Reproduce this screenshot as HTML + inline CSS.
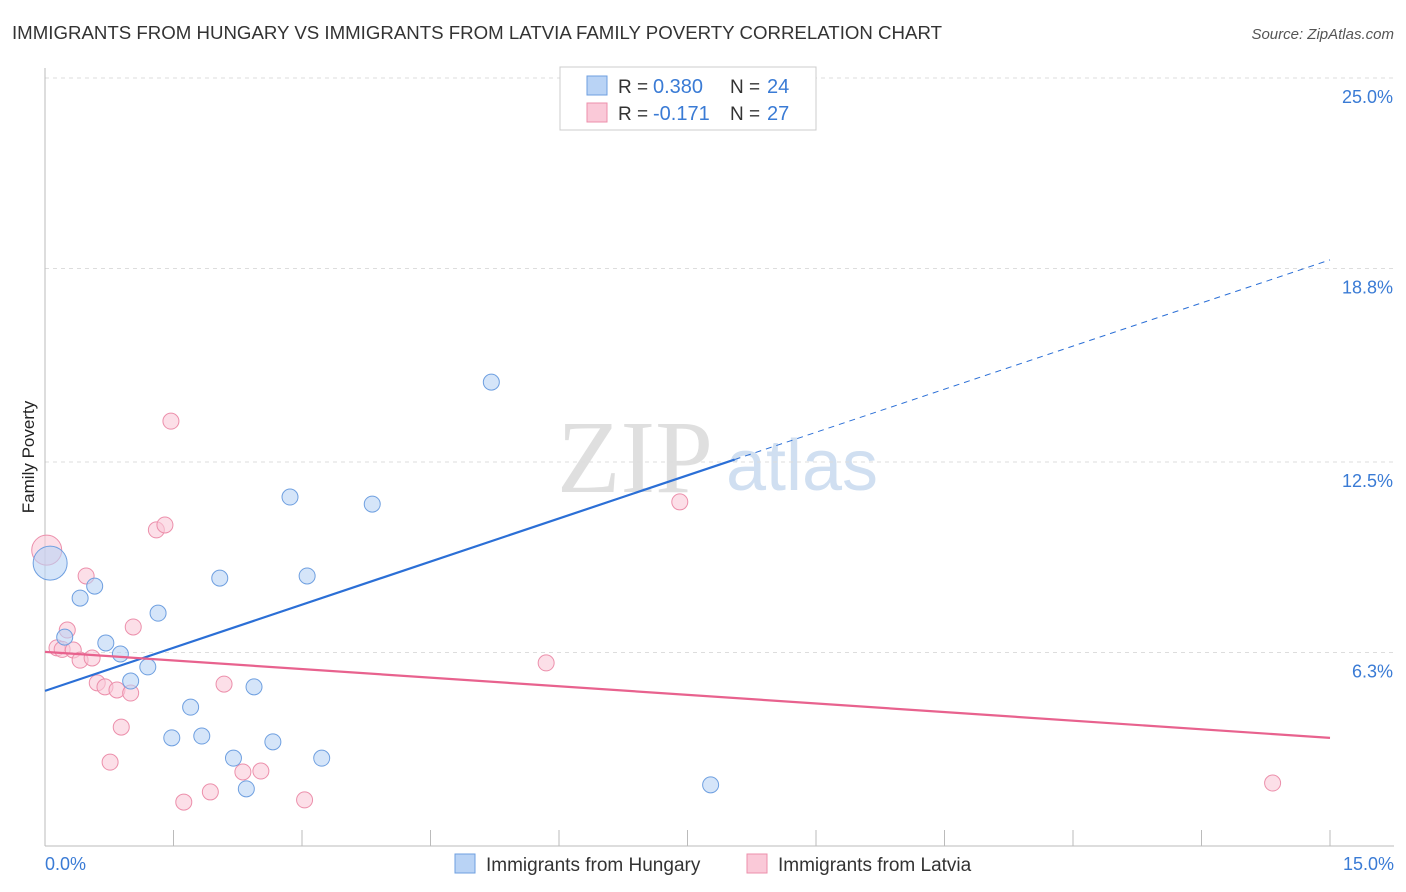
<!DOCTYPE html>
<html><head><meta charset="utf-8">
<style>
body{margin:0;background:#fff;font-family:"Liberation Sans",sans-serif;}
svg{display:block}
</style></head>
<body>
<svg id="chart" width="1406" height="892" xmlns="http://www.w3.org/2000/svg" font-family="Liberation Sans, sans-serif">
<text x="12" y="39" font-size="18" fill="#333" textLength="930" lengthAdjust="spacingAndGlyphs">IMMIGRANTS FROM HUNGARY VS IMMIGRANTS FROM LATVIA FAMILY POVERTY CORRELATION CHART</text>
<text x="1394" y="39" font-size="15" fill="#555" text-anchor="end" font-style="italic">Source: ZipAtlas.com</text>
<text transform="translate(34,457) rotate(-90)" font-size="17" fill="#222" text-anchor="middle">Family Poverty</text>
<g>
<text x="635" y="492" font-size="104" fill="#d8d8d8" font-family="Liberation Serif, serif" text-anchor="middle" opacity="0.8">ZIP</text>
<text x="802" y="490" font-size="72" fill="#c5d8ee" text-anchor="middle" opacity="0.8">atlas</text>
</g>
<g id="grid"></g>
<g id="axes"></g>
<g id="marks"></g>
<g>
<rect x="560" y="67" width="256" height="63" fill="#fff" stroke="#ccc"/>
<rect x="587" y="76" width="20" height="19" fill="#b9d3f5" stroke="#6e9fe0"/>
<text x="618" y="93" font-size="19" fill="#333">R =</text>
<text x="653" y="93" font-size="20" fill="#3a7bd5">0.380</text>
<text x="730" y="93" font-size="19" fill="#333">N =</text>
<text x="767" y="93" font-size="20" fill="#3a7bd5">24</text>
<rect x="587" y="103" width="20" height="19" fill="#fac9d8" stroke="#ec8fab"/>
<text x="618" y="120" font-size="19" fill="#333">R =</text>
<text x="653" y="120" font-size="20" fill="#3a7bd5">-0.171</text>
<text x="730" y="120" font-size="19" fill="#333">N =</text>
<text x="767" y="120" font-size="20" fill="#3a7bd5">27</text>
</g>
<g>
<rect x="455" y="854" width="20" height="19" fill="#b9d3f5" stroke="#6e9fe0"/>
<text x="486" y="871" font-size="19" fill="#333">Immigrants from Hungary</text>
<rect x="747" y="854" width="20" height="19" fill="#fac9d8" stroke="#ec8fab"/>
<text x="778" y="871" font-size="19" fill="#333">Immigrants from Latvia</text>
</g>
</svg>
<script>
const yTicks=[6.3,12.5,18.8,25.0];
const yTickLabels=["6.3%","12.5%","18.8%","25.0%"];
const xTickLabels=["0.0%","15.0%"];
const hungaryX=[0.06,0.23,0.41,0.58,0.71,0.88,1.0,1.2,1.32,1.48,1.70,1.83,2.04,2.2,2.35,2.44,2.66,2.86,3.06,3.23,3.82,5.21,7.16,7.77];
const hungaryY=[9.21,6.8,8.07,8.46,6.61,6.25,5.37,5.83,7.58,3.52,4.52,3.58,8.72,2.86,1.86,5.18,3.39,11.36,8.79,2.86,11.13,15.1,24.45,1.99];
const latviaX=[0.02,0.14,0.2,0.26,0.33,0.41,0.48,0.55,0.61,0.70,0.76,0.84,0.89,1.0,1.03,1.30,1.4,1.47,1.62,1.93,2.09,2.31,2.52,3.03,5.85,7.41,14.33];
const latviaY=[9.63,6.45,6.4,7.03,6.38,6.05,8.79,6.12,5.31,5.18,2.73,5.08,3.87,4.98,7.13,10.29,10.45,13.83,1.43,1.76,5.27,2.41,2.44,1.5,5.96,11.2,2.05];
const hungaryTrend=[5.05,19.08];
const latviaTrend=[6.32,3.52];
const hungarySolidEnd=8.05;

const NS="http://www.w3.org/2000/svg";
const X=v=>45+v*(1285/15);
const Y=v=>846-v*30.72;
function mk(tag,attrs,parent){const e=document.createElementNS(NS,tag);for(const k in attrs)e.setAttribute(k,attrs[k]);document.getElementById(parent).appendChild(e);return e;}
yTicks.forEach((t,i)=>{
 const l=mk('line',{x1:45,x2:1394,y1:Y(t),y2:Y(t),stroke:'#ddd','stroke-dasharray':'4,4'},'grid');
 
 
 const tx=mk('text',{x:1393,y:Y(t)+25,'font-size':18,fill:'#3a7bd5','text-anchor':'end'},'grid');
 tx.textContent=yTickLabels[i];
 
 
});
const ax=mk('line',{x1:45,x2:1394,y1:846,y2:846,stroke:'#bbb'},'axes');


const ay=mk('line',{x1:45,x2:45,y1:68,y2:846,stroke:'#bbb'},'axes');


for(let i=0;i<=10;i++){
 const t=mk('line',{x1:X(i*1.5),x2:X(i*1.5),y1:830,y2:846,stroke:'#bbb'},'axes');
 
 
}
const xl0=mk('text',{x:45,y:870,'font-size':18,fill:'#3a7bd5'},'axes');xl0.textContent=xTickLabels[0];


const xl1=mk('text',{x:1394,y:870,'font-size':18,fill:'#3a7bd5','text-anchor':'end'},'axes');xl1.textContent=xTickLabels[1];



function pt(x,y,fill,stroke,r){const c=mk('circle',{cx:X(x),cy:Y(y),r:r,fill:fill,stroke:stroke,'stroke-width':1,'fill-opacity':0.6},'marks');return c;}
latviaX.forEach((x,i)=>{const c=pt(x,latviaY[i],'#fac9d8','#ec8fab',i==0?15:8);
 
 });
hungaryX.forEach((x,i)=>{const c=pt(x,hungaryY[i],'#b9d3f5','#6e9fe0',i==0?17:8);
 
 });
const hv=x=>hungaryTrend[0]+(hungaryTrend[1]-hungaryTrend[0])*x/15;
const l1=mk('line',{x1:X(0),y1:Y(hv(0)),x2:X(hungarySolidEnd),y2:Y(hv(hungarySolidEnd)),stroke:'#2b6fd6','stroke-width':2.2},'marks');


const l2=mk('line',{x1:X(hungarySolidEnd),y1:Y(hv(hungarySolidEnd)),x2:X(15),y2:Y(hv(15)),stroke:'#2b6fd6','stroke-width':1,'stroke-dasharray':'6,5'},'marks');


const l3=mk('line',{x1:X(0),y1:Y(latviaTrend[0]),x2:X(15),y2:Y(latviaTrend[1]),stroke:'#e8628e','stroke-width':2.2},'marks');


</script>
</body></html>
